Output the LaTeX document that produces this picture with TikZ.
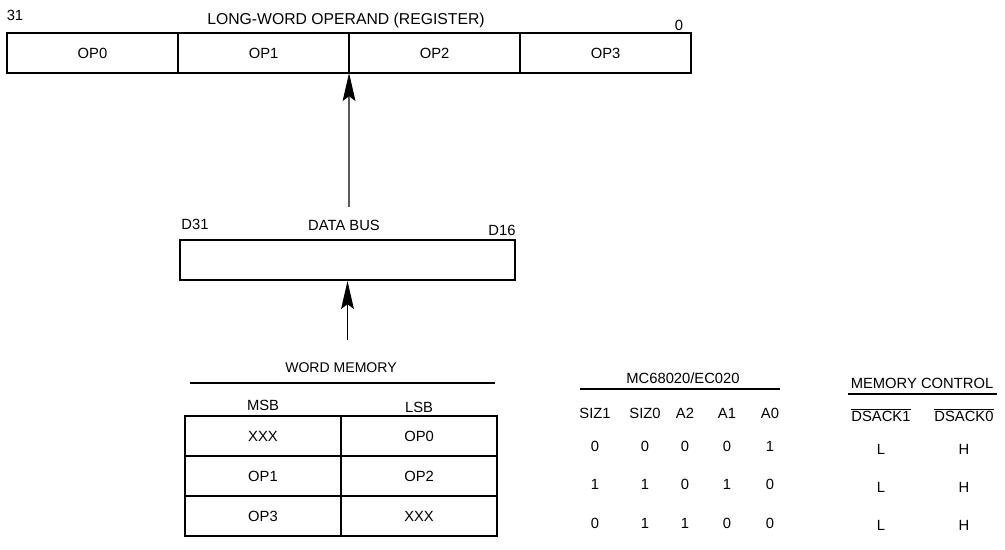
\documentclass[tikz,border=0pt]{standalone}
\usepackage{fontspec}
\setmainfont{Liberation Sans}
\usetikzlibrary{positioning, arrows.meta}

\begin{document}
\begin{tikzpicture}[x=0.025cm, y=-0.025cm, node distance=0.96cm,
    font=\fontsize{10.5}{12}\selectfont,
    field/.style={draw, line width=1.4pt, outer sep=0pt, inner sep=0pt,
      minimum width=4.275cm, minimum height=1cm},
    cell/.style={draw, line width=1pt, outer sep=0pt, inner sep=0pt,
      minimum width=3.9cm, minimum height=1cm},
    arr/.style={-{Stealth[length=0.7cm, width=0.32cm, inset=0.12cm]}, line width=0.9pt}]
  \useasboundingbox (0,0) rectangle (1005,550);

  % long-word register
  \node[field] (op0) at (92.5,53) {OP0};
  \node[field, right=0pt of op0] (op1) {OP1};
  \node[field, right=0pt of op1] (op2) {OP2};
  \node[field, right=0pt of op2] (op3) {OP3};
  \node (bit31) at (15,15) {31};
  \node (regname) at (346,20) {\fontsize{11.2}{12}\selectfont LONG-WORD OPERAND (REGISTER)};
  \node (bit0) at (679,25) {0};

  % data bus
  \node[draw, line width=1.4pt, minimum width=8.375cm, minimum height=1cm] (bus) at (347.5,260) {};
  \node (d31) at (195,224) {D31};
  \node (busname) at (344,225) {DATA BUS};
  \node (d16) at (502,230) {D16};

  \coordinate (busout) at (349,207);
  \coordinate (memout) at (347.5,340);
  \draw[arr] (busout) -- (op2.south west);
  \draw[arr] (memout) -- (bus.south);

  % word memory
  \node (memname) at (341,368) {\fontsize{10}{12}\selectfont WORD MEMORY};
  \draw[line width=0.9pt] (190,383) -- (495,383);
  \node (msb) at (263,405) {MSB};
  \node (lsb) at (419,407) {LSB};
  \node[cell] (xxx1) at (263,436) {XXX};
  \node[cell, right=0pt of xxx1] (op0m) {OP0};
  \node[cell, below=0pt of xxx1] (op1m) {OP1};
  \node[cell, right=0pt of op1m] (op2m) {OP2};
  \node[cell, below=0pt of op1m] (op3m) {OP3};
  \node[cell, right=0pt of op3m] (xxx2) {XXX};
  \draw[line width=1.6pt] (xxx1.north west) rectangle (xxx2.south east);

  % processor signals
  \node (cpu) at (683,378) {MC68020/EC020};
  \draw[line width=0.9pt] (580,389) -- (780,389);
  \node (siz1) at (595,413) {SIZ1};
  \node (siz0) at (645,413) {SIZ0};
  \node (a2) at (685,413) {A2};
  \node (a1) at (727,413) {A1};
  \node (a0) at (770,413) {A0};
  \node (r1c1) [below of=siz1, node distance=0.83cm] {0};
  \node (r1c2) [below of=siz0, node distance=0.83cm] {0};
  \node (r1c3) [below of=a2, node distance=0.83cm] {0};
  \node (r1c4) [below of=a1, node distance=0.83cm] {0};
  \node (r1c5) [below of=a0, node distance=0.83cm] {1};
  \node (r2c1) [below of=r1c1] {1};
  \node (r2c2) [below of=r1c2] {1};
  \node (r2c3) [below of=r1c3] {0};
  \node (r2c4) [below of=r1c4] {1};
  \node (r2c5) [below of=r1c5] {0};
  \node (r3c1) [below of=r2c1] {0};
  \node (r3c2) [below of=r2c2] {1};
  \node (r3c3) [below of=r2c3] {1};
  \node (r3c4) [below of=r2c4] {0};
  \node (r3c5) [below of=r2c5] {0};

  % memory control
  \node (memctl) at (922,383) {MEMORY CONTROL};
  \draw[line width=0.9pt] (848,394) -- (997,394);
  \node (ack1) at (881,415) {$\overline{\hbox{DSACK1}}$};
  \node (ack0) at (964,415) {$\overline{\hbox{DSACK0}}$};
  \node (l1) [below of=ack1, node distance=0.85cm] {L};
  \node (h1) [below of=ack0, node distance=0.85cm] {H};
  \node (l2) [below of=l1] {L};
  \node (h2) [below of=h1] {H};
  \node (l3) [below of=l2] {L};
  \node (h3) [below of=h2] {H};
\end{tikzpicture}
\end{document}
